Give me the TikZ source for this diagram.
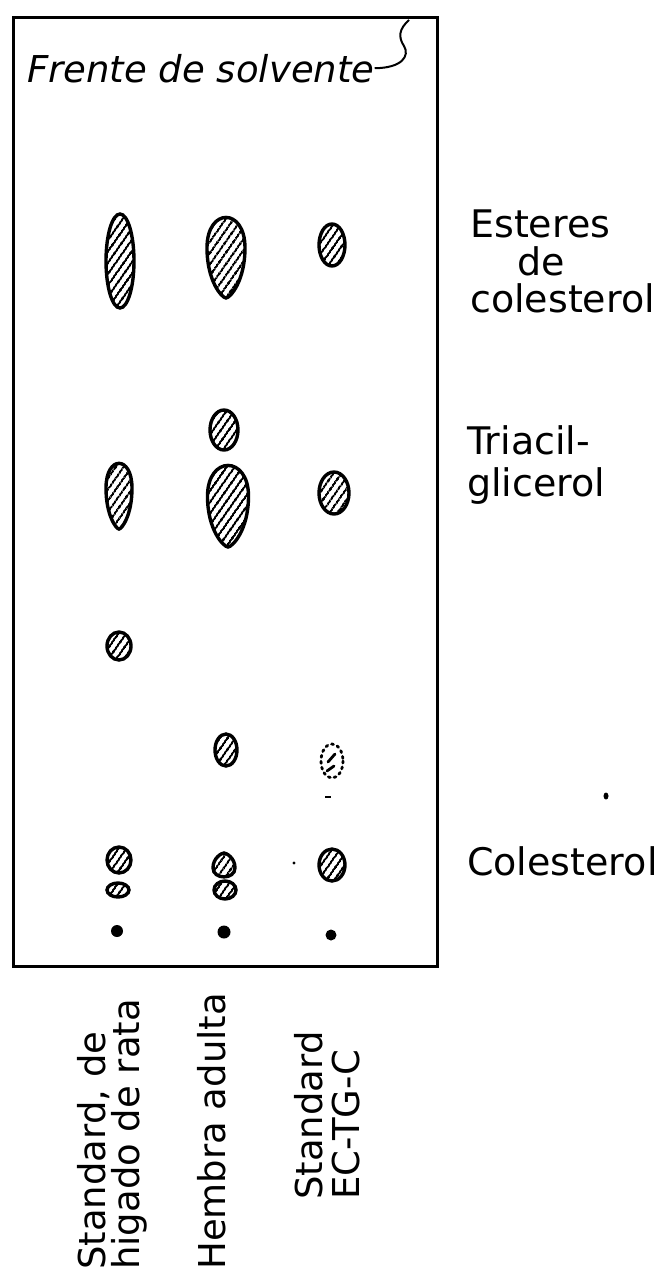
\documentclass[tikz,border=0pt]{standalone}
\usepackage{fontspec}
\setmainfont{DejaVu Sans}
\usetikzlibrary{patterns.meta}

% mancha en forma de gota: x, y de arriba, ancho, alto
\newcommand{\gota}[4]{%
  \pgfmathsetmacro\gxa{#1-#3/2}%
  \pgfmathsetmacro\gxb{#1+#3/2}%
  \pgfmathsetmacro\gya{#2+0.38*#4}%
  \pgfmathsetmacro\gyt{#2-0.12*#4}%
  \pgfmathsetmacro\gyq{#2+0.8*#4}%
  \pgfmathsetmacro\gyb{#2+#4}%
  \draw[mancha] (\gxa,\gya) .. controls (\gxa,\gyt) and (\gxb,\gyt) .. (\gxb,\gya)
    .. controls (\gxb,\gyq) and (#1+#3/10,\gyb) .. (#1,\gyb)
    .. controls (#1-#3/10,\gyb) and (\gxa,\gyq) .. cycle;}

\begin{document}
\begin{tikzpicture}[x=1pt, y=-1pt, inner sep=0pt,
  mancha/.style={draw, line width=3.4pt, pattern={Lines[angle=55, distance=6.5pt, line width=2.6pt]}},
  etiqueta/.style={font=\fontsize{38}{37.5}\selectfont, align=left},
  columna/.style={font=\fontsize{37}{34}\selectfont, align=left, anchor=north west, rotate=90}]
\useasboundingbox (0,0) rectangle (669,1277);

% placa
\node[draw, line width=3pt, minimum width=424pt, minimum height=949pt, anchor=north west] (placa) at (12,16) {};
\node[anchor=base west, font=\fontsize{37}{37}\selectfont\itshape] (frente) at (27,82) {Frente de solvente};
\coordinate (tope) at (409,20);
\draw[line width=2pt] (tope) .. controls (399,29) and (398,37) .. (404,46)
  .. controls (410,56) and (402,68) .. (frente.east);

% esteres de colesterol
\draw[mancha] (120,261) ellipse [x radius=14, y radius=47];
\gota{226}{217}{38}{81}
\draw[mancha] (332,245) ellipse [x radius=13, y radius=21];

% triacilglicerol
\draw[mancha] (224,430) ellipse [x radius=14, y radius=20];
\gota{119}{463}{26}{66}
\gota{228}{465}{41}{82}
\draw[mancha] (334,493) ellipse [x radius=15, y radius=21];

\draw[mancha] (119,646) ellipse [x radius=12, y radius=14];
\draw[mancha] (226,750) ellipse [x radius=11, y radius=16];
\draw[line width=2.8pt, dash pattern=on 2pt off 4pt, line cap=round] (332,761) ellipse [x radius=11, y radius=17];
\draw[line width=2.8pt, line cap=round] (328,762) -- (335,754) (327,771) -- (334,766);
\draw[line width=1.5pt] (325,797) -- (331,797);

% colesterol
\draw[mancha] (119,860) ellipse [x radius=12, y radius=13];
\draw[mancha] (118,890) ellipse [x radius=11, y radius=7];
\gota{224}{877}{22}{-24}
\draw[mancha] (225,890) ellipse [x radius=11, y radius=9];
\draw[mancha] (332,865) ellipse [x radius=13, y radius=16];
\fill (294,863) circle (1.6);

% puntos de siembra
\fill (117,931) circle (6);
\fill (224,932) circle (6.5);
\fill (331,935) circle (5.5);

\fill (606,796) ellipse [x radius=2.5, y radius=3.5];

% rotulos
\node[etiqueta, anchor=north west] (esteres) at (470,210) {Esteres\\\hspace*{47pt}de\\colesterol};
\node[etiqueta, anchor=north west] (triacil) at (467,425) {Triacil-\\[4.5pt]glicerol};
\node[etiqueta, anchor=base west] (colest) at (467,875) {Colesterol};

\node[columna] (rata) at (77,1270) {Standard, de\\higado de rata};
\node[columna] (hembra) at (197,1270) {Hembra adulta};
\node[columna] (stdc) at (294,1200) {Standard\\[3pt]EC-TG-C};
\end{tikzpicture}
\end{document}
